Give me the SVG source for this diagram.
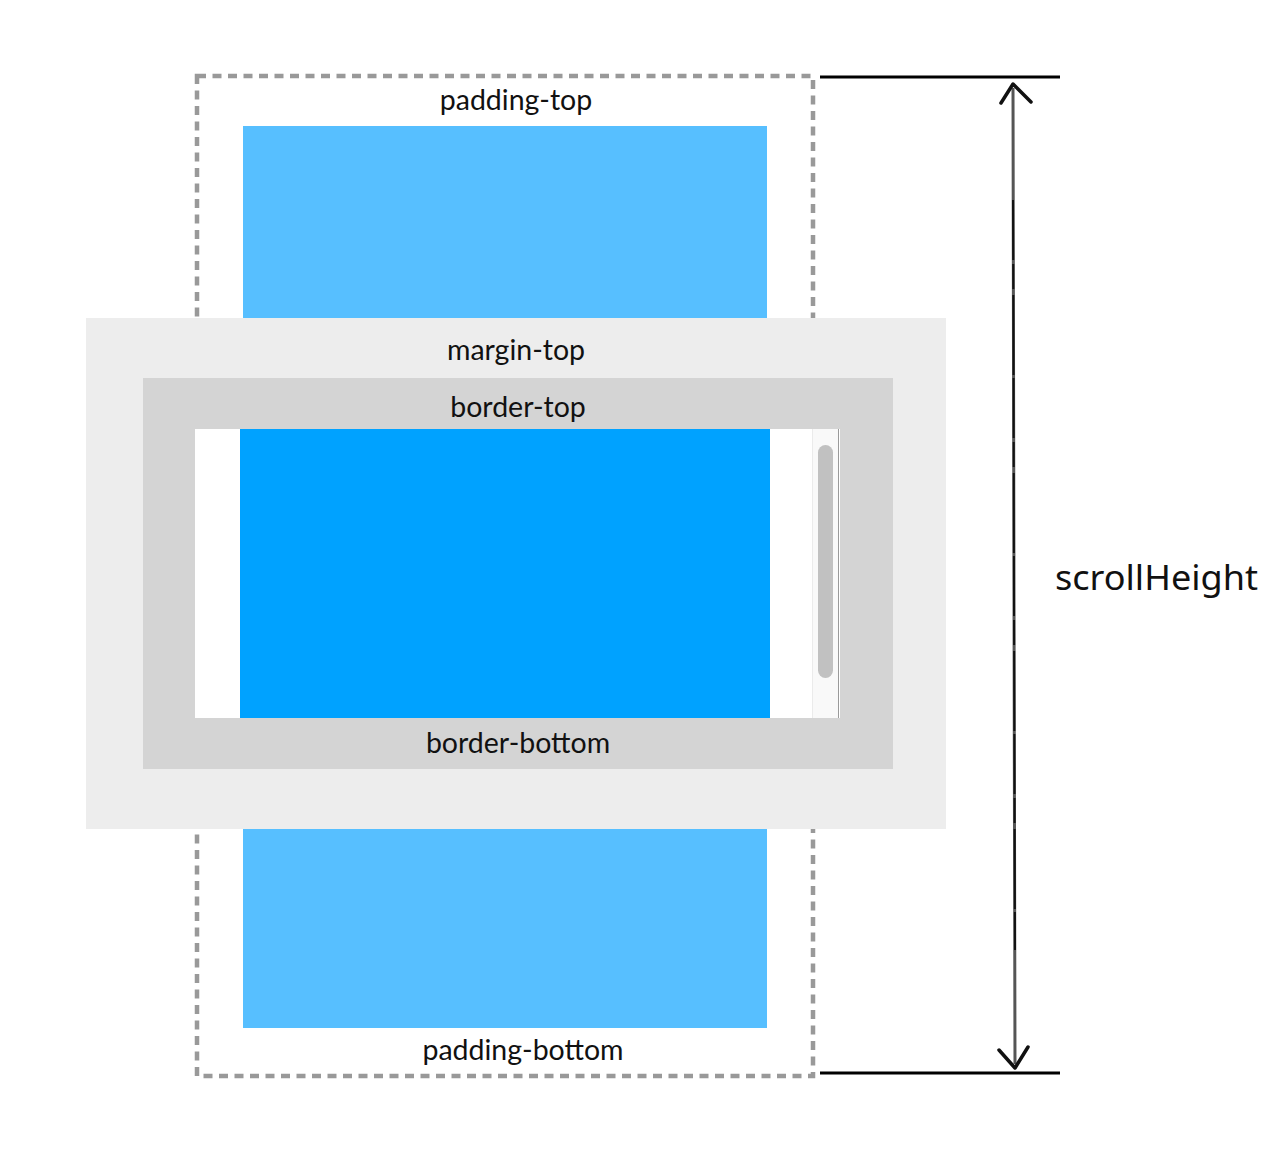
<svg xmlns="http://www.w3.org/2000/svg" width="1282" height="1152" viewBox="0 0 1282 1152">
<style>
.lbl{font-family:Lato,"Open Sans","Liberation Sans",sans-serif;font-size:28.5px;fill:#111;text-anchor:middle}
.hand{font-family:"Comic Sans MS","Noto Sans","DejaVu Sans",sans-serif;font-size:34px;fill:#111}
.pad{fill:#57bfff}
.dim{stroke:#000;stroke-width:3;fill:none}
</style>
<rect width="1282" height="1152" fill="#fff"/>
<g id="scroll-area">
<rect x="197" y="76" width="616" height="1000" fill="none" stroke="#999" stroke-width="4.5" stroke-dasharray="9 6.5"/>
</g>
<g id="padding-top-box">
<rect class="pad" x="243" y="126" width="524" height="192"/>
<text class="lbl" x="516" y="110">padding-top</text>
</g>
<g id="padding-bottom-box">
<rect class="pad" x="243" y="829" width="524" height="199"/>
<text class="lbl" x="523" y="1060">padding-bottom</text>
</g>
<g id="margin-box">
<rect x="86" y="318" width="860" height="511" fill="#ededed"/>
<text class="lbl" x="516" y="360">margin-top</text>
</g>
<g id="border-box">
<rect x="143" y="378" width="750" height="391" fill="#d4d4d4"/>
<text class="lbl" x="518" y="417">border-top</text>
<text class="lbl" x="518" y="753">border-bottom</text>
</g>
<g id="client-box">
<rect x="195" y="429" width="645" height="289" fill="#fff"/>
<rect x="240" y="429" width="530" height="289" fill="#00a2ff"/>
</g>
<g id="scrollbar">
<rect x="812" y="429" width="26" height="289" fill="#f9f9f9"/>
<line x1="812.5" y1="429" x2="812.5" y2="718" stroke="#ebebeb" stroke-width="1"/>
<line x1="838.5" y1="429" x2="838.5" y2="718" stroke="#9a9a9a" stroke-width="1"/>
<rect x="818" y="445" width="15" height="233" rx="7.5" fill="#c1c1c1"/>
</g>
<g id="connectors">
<line class="dim" x1="820" y1="77" x2="1060" y2="77"/>
<line class="dim" x1="820" y1="1073" x2="1060" y2="1073"/>
<path d="M1013 88 L1013.5 350 L1014 600 L1015 1064" stroke="#555" stroke-width="3" fill="none"/>
<path d="M1013 200 L1013.5 350 L1014 600 L1015 950" stroke="#111" stroke-width="2" fill="none" stroke-dasharray="60 4 25 6 80 3"/>
<path d="M1001 103 L1013 84 L1031 102" stroke="#111" stroke-width="3.5" fill="none" stroke-linecap="round" stroke-linejoin="round"/>
<path d="M999 1050 L1015 1068 L1028 1047" stroke="#111" stroke-width="3.5" fill="none" stroke-linecap="round" stroke-linejoin="round"/>
</g>
<g id="scrollHeight-label">
<text class="hand" x="1055" y="590" textLength="203" lengthAdjust="spacingAndGlyphs">scrollHeight</text>
</g>
</svg>
